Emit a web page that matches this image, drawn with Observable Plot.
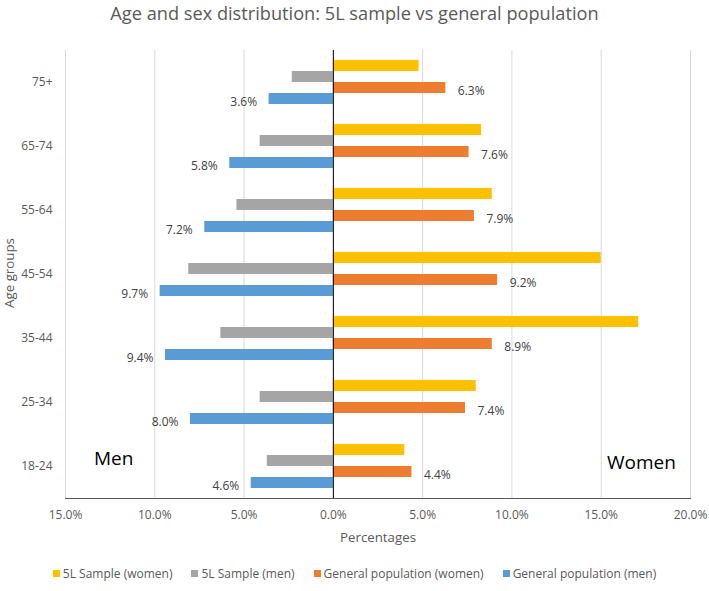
<!DOCTYPE html>
<html>
<head>
<meta charset="utf-8">
<script src="https://cdn.jsdelivr.net/npm/d3@7"></script>
<script src="https://cdn.jsdelivr.net/npm/@observablehq/plot@0.6"></script>
<style>
  body { margin: 0; background: #fff; font-family: "Open Sans", sans-serif; }
  #wrap { width: 709px; position: relative; }
  #title { height: 40px; line-height: 26px; text-align: center; font-size: 18.2px; color: #595959; }
  #chart svg { display: block; }
  #legend { height: 36px; display: flex; justify-content: center; align-items: center; gap: 19px; font-size: 12px; color: #595959; }
  #legend .item { display: flex; align-items: center; gap: 3px; }
  #legend .sw { width: 7px; height: 7px; display: inline-block; }
  .axlabel { position: absolute; font-size: 13.3px; color: #595959; white-space: nowrap; line-height: 1; }
  #xlabel { left: 378px; top: 538px; transform: translate(-50%, -50%); }
  #ylabel { left: 10px; top: 273px; transform: translate(-50%, -50%) rotate(-90deg); }
</style>
</head>
<body>
<div id="wrap">
  <div id="title">Age and sex distribution: 5L sample vs general population</div>
  <div id="chart"></div>
  <div id="legend"></div>
  <div class="axlabel" id="xlabel">Percentages</div>
  <div class="axlabel" id="ylabel">Age groups</div>
</div>
<script>
// Categories (bottom to top as in the chart)
const ageGroups = ["18-24", "25-34", "35-44", "45-54", "55-64", "65-74", "75+"];
// Series values (%)
const sampleWomen = [4.0, 8.0, 17.1, 15.0, 8.9, 8.3, 4.8];
const sampleMen   = [3.7, 4.1, 6.3, 8.1, 5.4, 4.1, 2.3];
const popWomen    = [4.4, 7.4, 8.9, 9.2, 7.9, 7.6, 6.3];
const popMen      = [4.6, 8.0, 9.4, 9.7, 7.2, 5.8, 3.6];
// Series names and colours (top to bottom within a group)
const seriesNames = ["5L Sample (women)", "5L Sample (men)", "General population (women)", "General population (men)"];
const seriesColors = ["#FFC000", "#A5A5A5", "#ED7D31", "#5B9BD5"];
// Axis ticks
const xTicks = [-15, -10, -5, 0, 5, 10, 15, 20];
// Annotations
const annotations = [
  {label: "Men", group: "18-24", x: -12.3},
  {label: "Women", group: "18-24", x: 17.25}
];

const seriesValues = [sampleWomen, sampleMen, popWomen, popMen];
const signs = [1, -1, 1, -1];
const rows = [];
ageGroups.forEach((g, i) => {
  seriesNames.forEach((s, k) => {
    rows.push({group: g, series: s, value: signs[k] * seriesValues[k][i]});
  });
});
const fmt = v => Math.abs(v).toFixed(1) + "%";

const chart = Plot.plot({
  width: 709,
  height: 515,
  marginLeft: 65,
  marginRight: 19,
  marginTop: 8,
  marginBottom: 55,
  style: {fontFamily: "Open Sans", fontSize: "12px", color: "#595959", background: "white", overflow: "visible"},
  x: {domain: [-15, 20], ticks: xTicks, tickFormat: fmt, tickSize: 0, tickPadding: 12, label: null, line: true},
  y: {domain: seriesNames, paddingInner: 0, paddingOuter: 0.9, axis: null},
  fy: {domain: ageGroups.slice().reverse(), padding: 0, label: null, tickSize: 0, tickPadding: 13},
  color: {domain: seriesNames, range: seriesColors},
  marks: [
    Plot.ruleX(xTicks, {stroke: "#d9d9d9", strokeWidth: 1}),
    Plot.barX(rows, {fy: "group", y: "series", x: "value", fill: "series"}),
    Plot.ruleX([0], {stroke: "#000", strokeWidth: 1}),
    Plot.text(rows.filter(d => d.series === seriesNames[2]), {fy: "group", y: "series", x: "value", text: d => fmt(d.value), textAnchor: "start", dx: 12, dy: 3, fill: "#404040", fontSize: 12}),
    Plot.text(rows.filter(d => d.series === seriesNames[3]), {fy: "group", y: "series", x: "value", text: d => fmt(d.value), textAnchor: "end", dx: -12, dy: 3, fill: "#404040", fontSize: 12}),
    Plot.text(annotations.filter(d => d.label === "Men"), {fy: "group", x: "x", text: "label", dy: -8, fontSize: 19, fill: "#000"}),
    Plot.text(annotations.filter(d => d.label === "Women"), {fy: "group", x: "x", text: "label", dy: -4, fontSize: 19, fill: "#000"})
  ]
});
document.getElementById("chart").appendChild(chart);

const legend = document.getElementById("legend");
seriesNames.forEach((s, k) => {
  const item = document.createElement("span");
  item.className = "item";
  const sw = document.createElement("span");
  sw.className = "sw";
  sw.style.background = seriesColors[k];
  item.appendChild(sw);
  item.appendChild(document.createTextNode(s));
  legend.appendChild(item);
});
</script>
</body>
</html>
